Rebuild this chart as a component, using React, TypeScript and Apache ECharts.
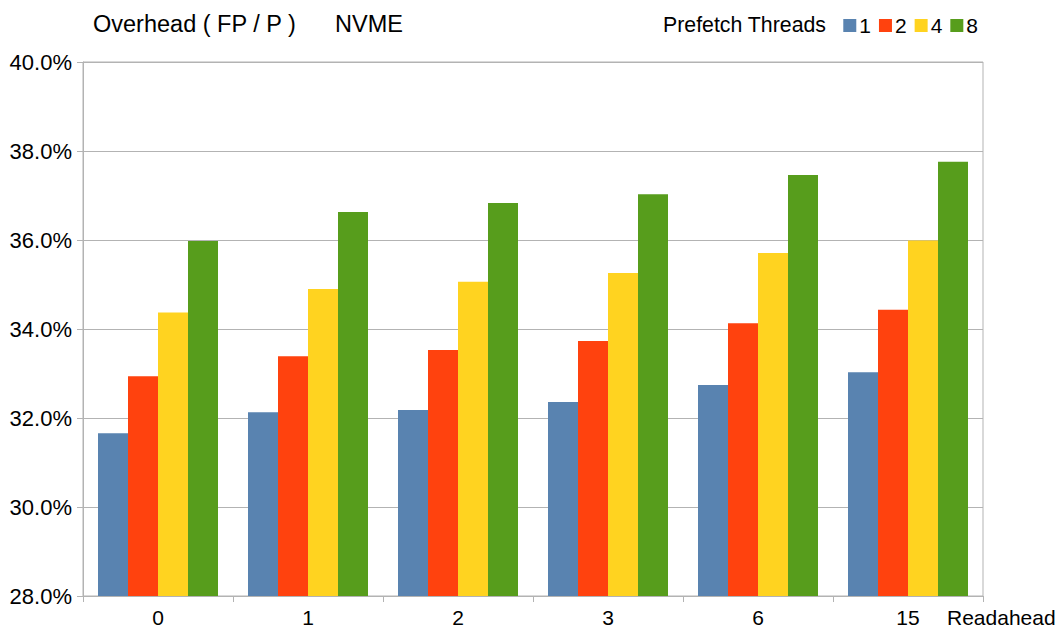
import React, { useEffect, useRef } from "react";
import * as echarts from "echarts";

const categories = ["0", "1", "2", "3", "6", "15"];
const seriesNames = ["1", "2", "4", "8"];
const threads1 = [31.66, 32.13, 32.18, 32.36, 32.74, 33.03];
const threads2 = [32.94, 33.39, 33.53, 33.73, 34.13, 34.43];
const threads4 = [34.37, 34.9, 35.06, 35.26, 35.71, 35.99];
const threads8 = [35.98, 36.63, 36.83, 37.03, 37.46, 37.76];
const colors = ["#5983b0", "#ff420e", "#ffd320", "#579d1c"];
const yTicks = { min: 28, max: 40, interval: 2 };

const FONT = "'Liberation Sans', Arial, sans-serif";

export default function App() {
  const ref = useRef<HTMLDivElement>(null);
  useEffect(() => {
    if (!ref.current) return;
    const chart = echarts.init(ref.current, undefined, { renderer: "svg" });
    const data = [threads1, threads2, threads4, threads8];
    chart.setOption({
      animation: false,
      textStyle: { fontFamily: FONT },
      grid: {
        left: 83,
        right: 77,
        top: 62,
        bottom: 32,
        show: true,
        borderColor: "#b3b3b3",
        borderWidth: 1,
        containLabel: false,
      },
      graphic: [
        {
          type: "text",
          left: 93,
          top: 12,
          style: { text: "Overhead ( FP / P )", fontSize: 23.5, fontFamily: FONT, fill: "#000" },
        },
        {
          type: "text",
          left: 335,
          top: 12,
          style: { text: "NVME", fontSize: 23.5, fontFamily: FONT, fill: "#000" },
        },
        {
          type: "text",
          left: 663,
          top: 14,
          style: { text: "Prefetch Threads", fontSize: 21.3, fontFamily: FONT, fill: "#000" },
        },
        {
          type: "text",
          left: 947,
          top: 607,
          style: { text: "Readahead", fontSize: 21, fontFamily: FONT, fill: "#000" },
        },
      ],
      legend: {
        right: 77,
        top: 10,
        icon: "rect",
        itemWidth: 13,
        itemHeight: 13,
        itemGap: 8,
        textStyle: { fontSize: 21, fontFamily: FONT, color: "#000", padding: [0, 0, 0, -2] },
        data: seriesNames,
      },
      xAxis: {
        type: "category",
        data: categories,
        axisLine: { lineStyle: { color: "#b3b3b3" } },
        axisTick: { show: true, length: 6, lineStyle: { color: "#b3b3b3" } },
        axisLabel: { fontSize: 21, fontFamily: FONT, color: "#000", margin: 11 },
      },
      yAxis: {
        type: "value",
        min: yTicks.min,
        max: yTicks.max,
        interval: yTicks.interval,
        axisLine: { show: true, lineStyle: { color: "#b3b3b3" } },
        axisTick: { show: true, length: 6, lineStyle: { color: "#b3b3b3" } },
        splitLine: { lineStyle: { color: "#b3b3b3" } },
        axisLabel: {
          fontSize: 22,
          fontFamily: FONT,
          color: "#000",
          margin: 11,
          formatter: (v: number) => v.toFixed(1) + "%",
        },
      },
      series: seriesNames.map((n, i) => ({
        name: n,
        type: "bar",
        data: data[i],
        barGap: "0%",
        barCategoryGap: "20%",
        itemStyle: { color: colors[i] },
      })),
    });
    return () => chart.dispose();
  }, []);
  return <div ref={ref} style={{ width: 1060, height: 628, position: "absolute", left: 0, top: 0 }} />;
}
